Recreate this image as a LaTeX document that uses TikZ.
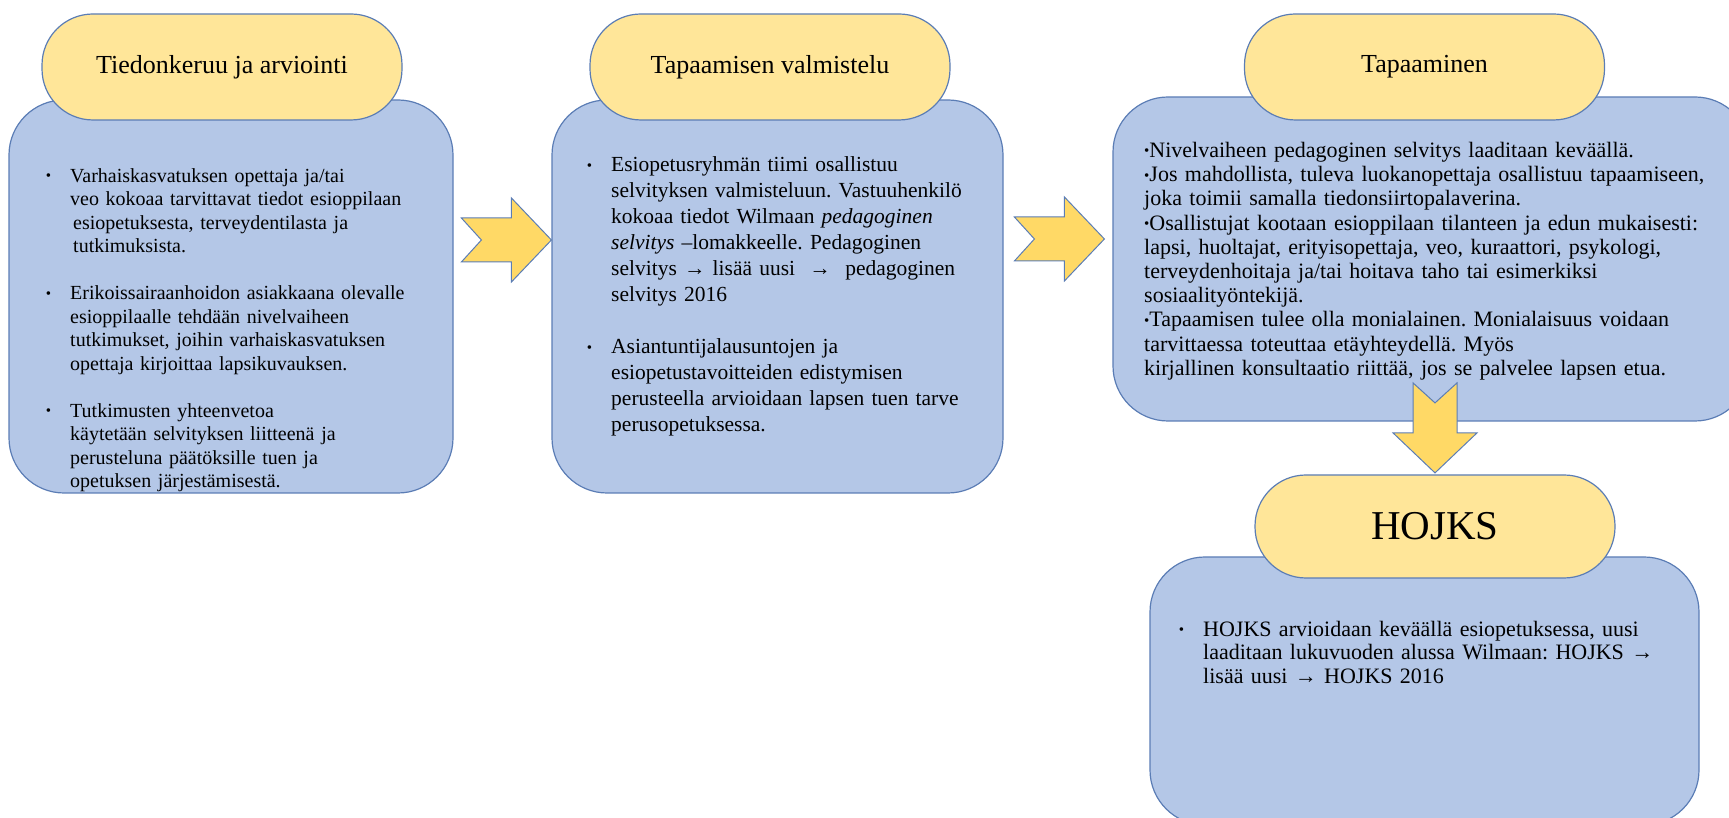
\documentclass[tikz,border=0pt]{standalone}
\usepackage{fontspec}
\setmainfont{Liberation Serif}
\usepackage{xcolor}
\usepackage{tikz}
\usetikzlibrary{positioning, arrows.meta}
\definecolor{boxblue}{HTML}{B4C7E7}
\definecolor{pillgold}{HTML}{FFE699}
\definecolor{arrowgold}{HTML}{FFD966}
\definecolor{edgeblue}{HTML}{5B7DB5}

\newcommand{\sdot}{\raisebox{1.5pt}{\fontsize{15}{15}\selectfont •}}
\newcommand{\bitem}[1]{\leavevmode\hangindent=#1\hangafter=0\llap{\sdot\hspace{19pt}}}
\newcommand{\nl}{\unskip\hfil\break}

\tikzset{
  blockarrow/.pic={
    \draw[fill=arrowgold, draw=edgeblue, line width=1pt]
      (0,0) -- (-40,42) -- (-40,22) -- (-90,22) -- (-70,0) -- (-90,-22)
      -- (-40,-22) -- (-40,-42) -- cycle;
  }
}

\begin{document}
\frenchspacing
\begin{tikzpicture}[x=1pt, y=1pt,
    stagebox/.style={draw=edgeblue, fill=boxblue, line width=1.2pt, rounded corners=55pt},
    stagetitle/.style={draw=edgeblue, fill=pillgold, line width=1.2pt, rounded corners=51pt,
      minimum width=360pt, minimum height=106pt, font=\fontsize{26}{30}\selectfont},
    bodytext/.style={anchor=north west, inner sep=0pt}]
  \useasboundingbox (0,0) rectangle (1729,818);

  % stage boxes
  \node[stagebox, minimum width=444pt, minimum height=393pt] (box1) at (231,521.5) {};
  \node[stagebox, minimum width=451pt, minimum height=393pt] (box2) at (777.5,521.5) {};
  \node[stagebox, minimum width=637pt, minimum height=324pt] (box3) at (1431.5,559) {};

  % titles
  \node[stagetitle] (title1) at (222,751) {Tiedonkeruu ja arviointi};
  \node[stagetitle] (title2) at (770,751) {Tapaamisen valmistelu};
  \node[stagetitle] (title3) at (1424.5,751) {Tapaaminen};

  \node[bodytext, text width=370pt, font=\fontsize{20}{23.5}\selectfont] (text1) at (45,650) {%
    \bitem{25pt}Varhaiskasvatuksen opettaja ja/tai\nl
    veo kokoaa tarvittavat tiedot esioppilaan\nl
    \hspace*{3pt}esiopetuksesta, terveydentilasta ja\nl
    \hspace*{3pt}tutkimuksista.\par\vspace{23.5pt}
    \bitem{25pt}Erikoissairaanhoidon asiakkaana olevalle\nl
    esioppilaalle tehdään nivelvaiheen\nl
    tutkimukset, joihin varhaiskasvatuksen\nl
    opettaja kirjoittaa lapsikuvauksen.\par\vspace{23.5pt}
    \bitem{25pt}Tutkimusten yhteenvetoa\nl
    käytetään selvityksen liitteenä ja\nl
    perusteluna päätöksille tuen ja\nl
    opetuksen järjestämisestä.\par};

  \node[bodytext, text width=400pt, font=\fontsize{21.5}{26}\selectfont] (text2) at (588,661.5) {%
    \bitem{23pt}Esiopetusryhmän tiimi osallistuu\nl
    selvityksen valmisteluun. Vastuuhenkilö\nl
    kokoaa tiedot Wilmaan \textit{pedagoginen}\nl
    \textit{selvitys} –lomakkeelle. Pedagoginen\nl
    selvitys → lisää uusi \ → \ pedagoginen\nl
    selvitys 2016\par\vspace{26pt}
    \bitem{23pt}Asiantuntijalausuntojen ja\nl
    esiopetustavoitteiden edistymisen\nl
    perusteella arvioidaan lapsen tuen tarve\nl
    perusopetuksessa.\par};

  \node[bodytext, text width=590pt, font=\fontsize{22}{24.2}\selectfont] (text3) at (1144,676) {%
    \sdot Nivelvaiheen pedagoginen selvitys laaditaan keväällä.\\
    \sdot Jos mahdollista, tuleva luokanopettaja osallistuu tapaamiseen,\\
    joka toimii samalla tiedonsiirtopalaverina.\\
    \sdot Osallistujat kootaan esioppilaan tilanteen ja edun mukaisesti:\\
    lapsi, huoltajat, erityisopettaja, veo, kuraattori, psykologi,\\
    terveydenhoitaja ja/tai hoitava taho tai esimerkiksi\\
    sosiaalityöntekijä.\\
    \sdot Tapaamisen tulee olla monialainen. Monialaisuus voidaan\\
    tarvittaessa toteuttaa etäyhteydellä. Myös\\
    kirjallinen konsultaatio riittää, jos se palvelee lapsen etua.};

  % last stage
  \node[stagebox, minimum width=549pt, minimum height=268pt] (box4) at (1424.5,127) {};
  \node[stagetitle, minimum height=103pt, font=\fontsize{41}{46}\selectfont] (title4) at (1435,291.5) {HOJKS};
  \node[bodytext, text width=500pt, font=\fontsize{22}{23.3}\selectfont] (text4) at (1180,197) {%
    \bitem{23pt}HOJKS arvioidaan keväällä esiopetuksessa, uusi\nl
    laaditaan lukuvuoden alussa Wilmaan: HOJKS →\nl
    lisää uusi → HOJKS 2016\par};

  % arrows between stages
  \pic at ([yshift=56.5pt]box2.west) {blockarrow};
  \pic at ([xshift=-8pt, yshift=20pt]box3.west) {blockarrow};
  \pic[rotate=-90] at ([yshift=1.5pt]title4.north) {blockarrow};
\end{tikzpicture}
\end{document}
